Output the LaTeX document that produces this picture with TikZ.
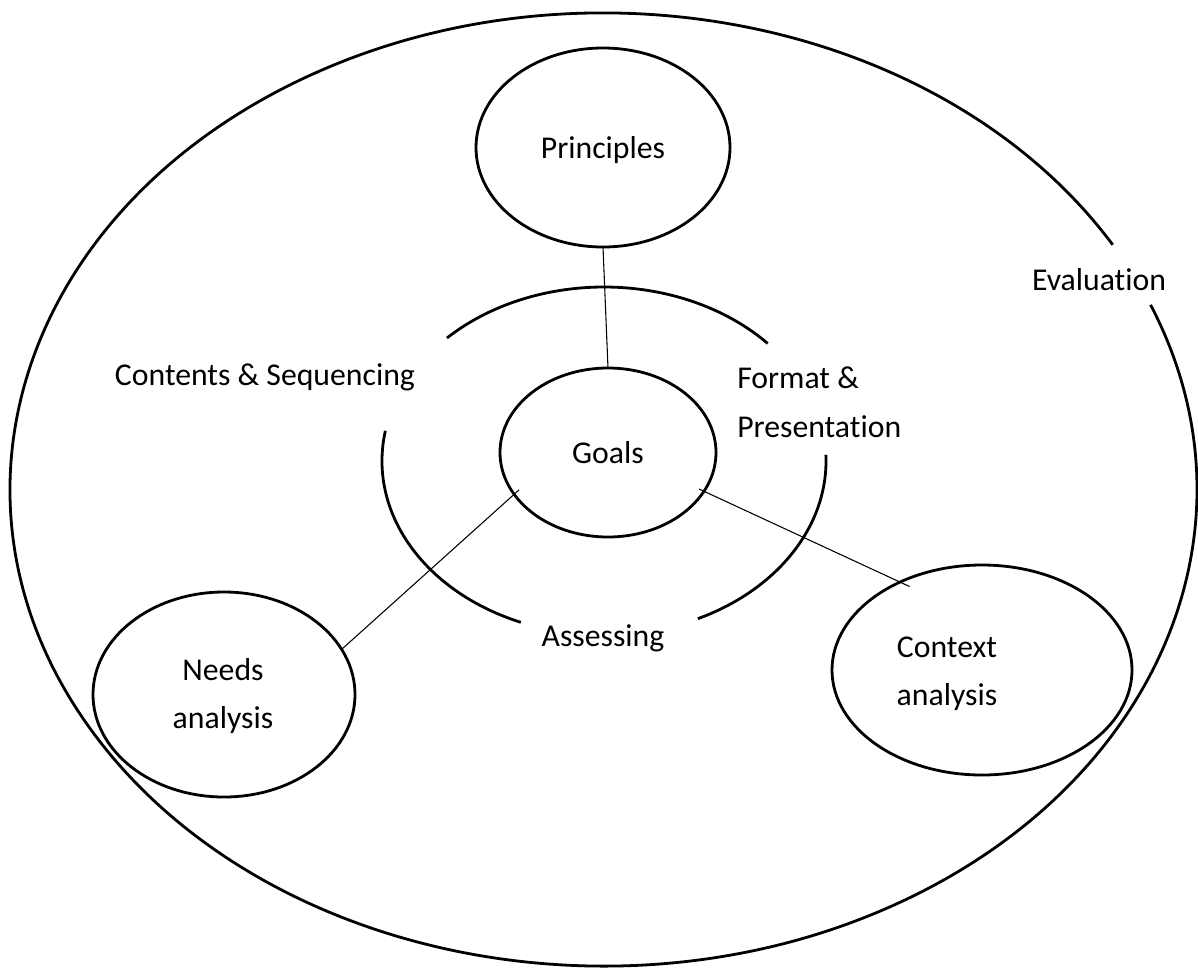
\documentclass[tikz,border=0pt]{standalone}
\usepackage{fontspec}
\setmainfont{Carlito}[Ligatures={NoCommon}]
\usetikzlibrary{shapes.geometric,calc}
\begin{document}
\begin{tikzpicture}[x=0.75pt,y=-0.75pt,
  oval/.style={draw, ellipse, line width=2.1pt, inner sep=0pt, outer sep=0pt},
  ring/.style={line width=2.1pt},
  link/.style={line width=0.8pt},
  lbl/.style={anchor=base, inner sep=0pt, font=\fontsize{23.8}{28}\selectfont}]
\useasboundingbox (0,0) rectangle (1198,968);

% outer ellipse (Evaluation), open near its label
\draw[ring] (603.5,489.5) ++(30.9:445.1pt and 357.4pt)
  arc[start angle=30.9, end angle=382.8, x radius=445.1pt, y radius=357.4pt];

% middle ring, three arcs
\draw[ring] (604,461) ++(42.5:166.5pt and 130.5pt)
  arc[start angle=42.5, end angle=135, x radius=166.5pt, y radius=130.5pt];
\draw[ring] (604,461) ++(170:166.5pt and 130.5pt)
  arc[start angle=170, end angle=248, x radius=166.5pt, y radius=130.5pt];
\draw[ring] (604,461) ++(295:166.5pt and 130.5pt)
  arc[start angle=295, end angle=362, x radius=166.5pt, y radius=130.5pt];

% ellipses
\node[oval, minimum width=190.5pt, minimum height=149.25pt] (principles) at (603,147.5) {};
\node[oval, minimum width=162pt, minimum height=126.75pt] (goals) at (608,452.5) {};
\node[oval, minimum width=196.5pt, minimum height=153.75pt] (needs) at (224,694.5) {};
\node[oval, minimum width=225pt, minimum height=157.5pt] (context) at (982,670) {};

% labels
\node[lbl] (tprinciples) at (603,158) {Principles};
\node[lbl] (tgoals) at (608,463) {Goals};
\node[lbl] (tcontents) at (265,385) {Contents \& Sequencing};
\node[lbl, anchor=base west] (tformat) at (737,388) {Format \&};
\node[lbl, anchor=base west] (tpresentation) at (737,437) {Presentation};
\node[lbl] (tevaluation) at (1099,290) {Evaluation};
\node[lbl] (tassessing) at (603,646) {Assessing};
\node[lbl] (tneeds) at (223,680) {Needs};
\node[lbl] (tneedsb) at (223,728) {analysis};
\node[lbl] (tcontext) at (947,657) {Context};
\node[lbl] (tcontextb) at (947,705) {analysis};

% connectors
\draw[link] (principles.south) -- (goals.north);
\draw[link, shorten <=-5pt] (goals.204.5) -- (needs.21.8);
\draw[link, shorten <=-4pt, shorten >=-8pt] (goals.338) -- (context.133);
\end{tikzpicture}
\end{document}
